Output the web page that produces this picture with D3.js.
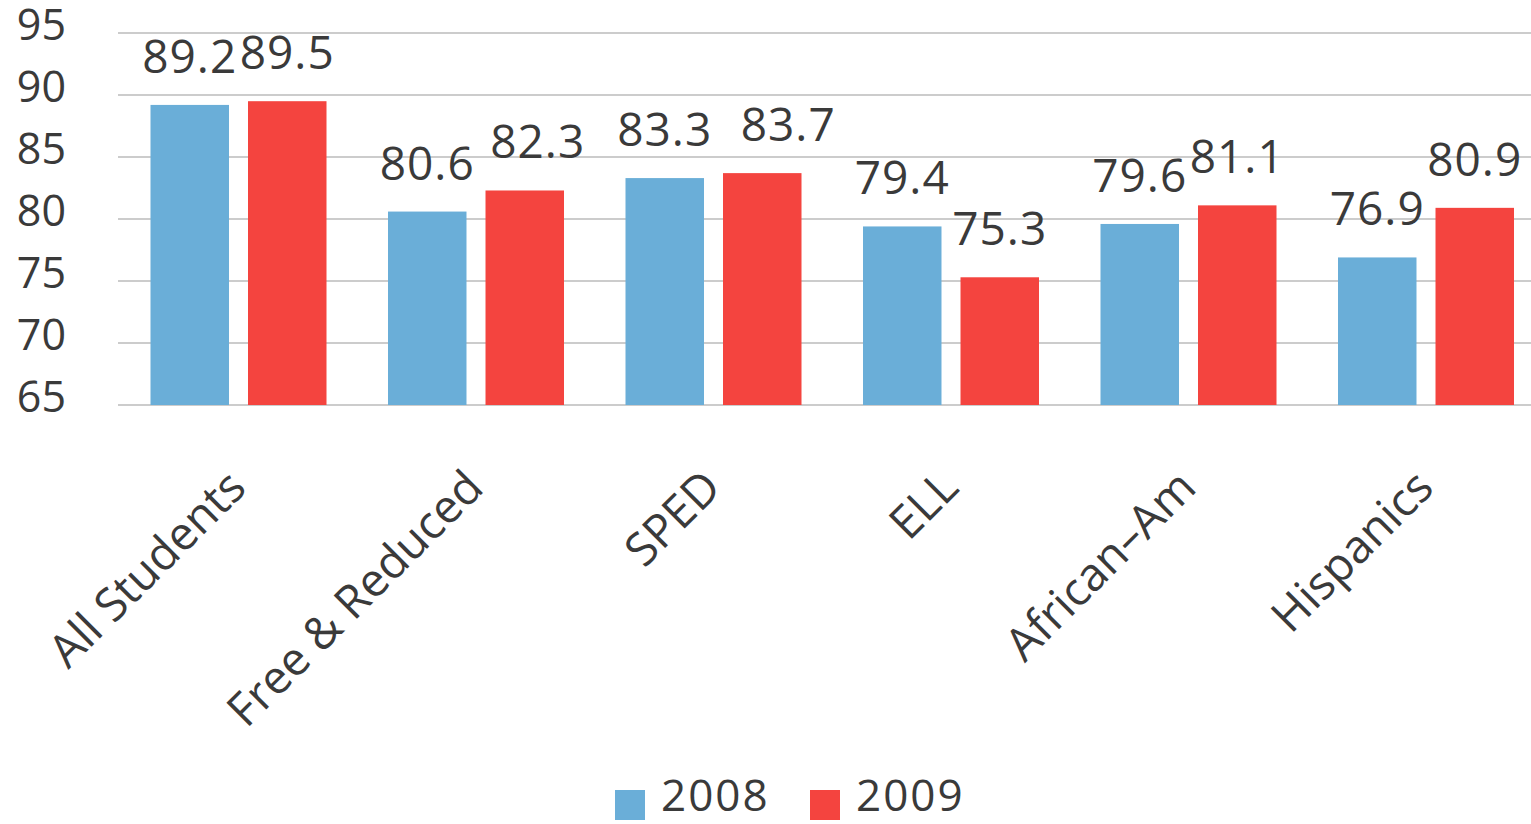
<!DOCTYPE html>
<html>
<head>
<meta charset="utf-8">
<script src="https://cdn.jsdelivr.net/npm/d3@7"></script>
<style>
  html, body { margin: 0; padding: 0; background: #fff; }
  svg { display: block; }
  text { font-family: "Open Sans", "DejaVu Sans", sans-serif; fill: #3a3a3a; }
</style>
</head>
<body>
<svg id="chart" width="1531" height="824"></svg>
<script>
const categories = ["All Students", "Free & Reduced", "SPED", "ELL", "African\u2013Am", "Hispanics"];
const seriesNames = ["2008", "2009"];
const values2008 = [89.2, 80.6, 83.3, 79.4, 79.6, 76.9];
const values2009 = [89.5, 82.3, 83.7, 75.3, 81.1, 80.9];
const yTicks = [65, 70, 75, 80, 85, 90, 95];
const colors = ["#6aaed8", "#f4443f"];

const seriesValues = [values2008, values2009];
const svg = d3.select("#chart");

const x0 = d3.scaleBand().domain(categories).range([119.5, 1544.5]).padding(0);
const x1 = d3.scaleBand().domain(seriesNames).range([31, 207]).paddingInner(0.195).paddingOuter(0);
const y = d3.scaleLinear().domain([65, 95]).range([405, 33]);

// gridlines
const grid = svg.append("g");
grid.selectAll("line").data(yTicks).join("line")
  .attr("x1", 118).attr("x2", 1531)
  .attr("y1", d => y(d)).attr("y2", d => y(d))
  .attr("stroke", "#9a9a9a").attr("stroke-width", 1.2);

// y axis labels
const yAxis = d3.axisLeft(y).tickValues(yTicks).tickSize(0).tickPadding(0);
const yg = svg.append("g").attr("transform", "translate(66,0)").call(yAxis);
yg.select(".domain").remove();
yg.selectAll("text")
  .attr("font-size", 43)
  .attr("dy", "0.32em")
  .attr("y", -7)
  .style("font-family", '"Open Sans", sans-serif')
  .attr("fill", "#3a3a3a");

// bars
const rows = categories.map((c, i) => ({ cat: c, i, vals: seriesNames.map((s, j) => ({ s, j, i, v: seriesValues[j][i] })) }));
const groups = svg.append("g").selectAll("g").data(rows).join("g")
  .attr("transform", d => `translate(${x0(d.cat)},0)`);

groups.selectAll("rect").data(d => d.vals).join("rect")
  .attr("x", d => x1(d.s))
  .attr("width", x1.bandwidth())
  .attr("y", d => y(d.v))
  .attr("height", d => y(65) - y(d.v))
  .attr("fill", d => colors[d.j]);

// a couple of labels in the original were nudged right to avoid overlap
const nudge = (d) => (d.j === 1 && d.i === 1 ? 13 : d.j === 1 && d.i === 2 ? 26 : 0);

groups.selectAll("text.val").data(d => d.vals).join("text")
  .attr("class", "val")
  .attr("x", d => x1(d.s) + x1.bandwidth() / 2 + nudge(d))
  .attr("y", d => y(d.v) - 32)
  .attr("text-anchor", "middle")
  .attr("font-size", 46)
  .attr("letter-spacing", 1)
  .text(d => d.v.toFixed(1));

// category labels
svg.append("g").selectAll("text").data(categories).join("text")
  .attr("text-anchor", "end")
  .attr("font-size", 46)
  .attr("transform", d => `translate(${x0(d) + x0.bandwidth() / 2 + 10},490) rotate(-45)`)
  .text(d => d);

// legend
const legend = svg.append("g");
const legendX = [615, 810];
seriesNames.forEach((s, j) => {
  legend.append("rect")
    .attr("x", legendX[j]).attr("y", 790).attr("width", 30).attr("height", 30)
    .attr("fill", colors[j]);
  legend.append("text")
    .attr("x", legendX[j] + 46).attr("y", 811)
    .attr("font-size", 44)
    .attr("letter-spacing", 2)
    .text(s);
});
</script>
</body>
</html>
